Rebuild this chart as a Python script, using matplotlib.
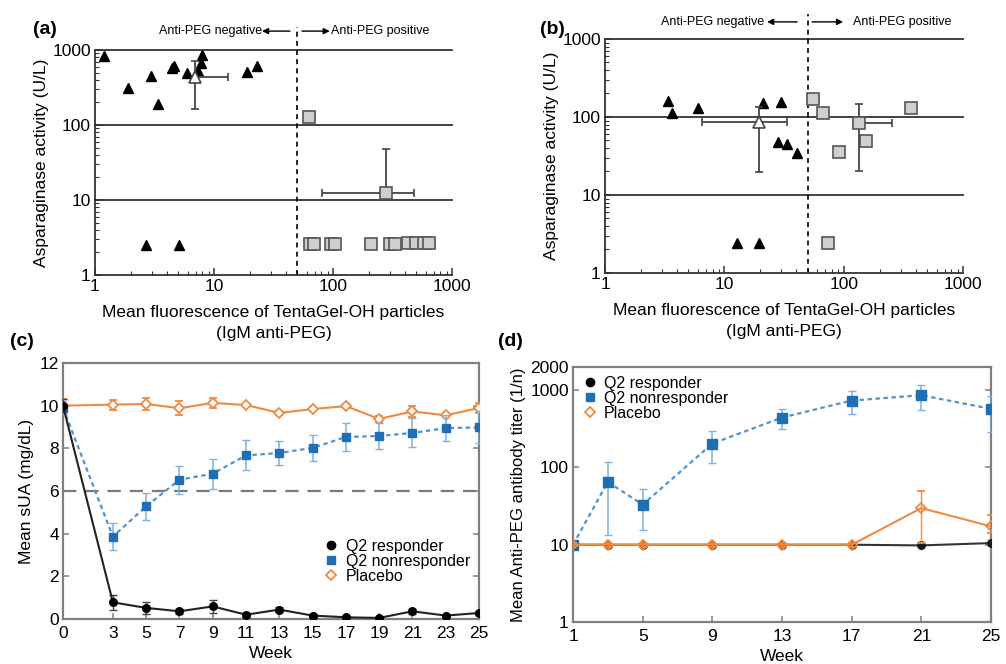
import matplotlib
matplotlib.use("Agg")
from matplotlib import pyplot as plt
from matplotlib.lines import Line2D
from matplotlib.ticker import NullFormatter, LogLocator

plt.rcParams["font.family"] = ["Liberation Sans", "DejaVu Sans"]

# (a) asparaginase activity vs anti-PEG fluorescence, cohort 1
a_neg_x = [1.2, 1.88, 2.95, 3.4, 4.4, 4.6, 5.98, 7.98, 7.8, 7.4, 18.8, 22.8, 2.67, 5.09]
a_neg_y = [820, 315, 450, 189, 570, 620, 500, 860, 665, 520, 505, 620, 2.5, 2.5]
a_pos_x = [62.5, 63.7, 68.9, 96.8, 104.6, 209, 302, 333, 425, 499, 586, 646]
a_pos_y = [129, 2.59, 2.59, 2.59, 2.59, 2.59, 2.6, 2.6, 2.65, 2.65, 2.65, 2.65]
a_neg_mean = [6.9, 440]
a_neg_xerr = [0, 6.1]
a_neg_yerr = [278, 280]
a_pos_mean = [280, 12.5]
a_pos_xerr = [199, 203]
a_pos_yerr = [0, 35.5]

# (b) same measurement, cohort 2
b_neg_x = [3.35, 3.62, 6.05, 21.2, 29.6, 28, 33.3, 40.9, 12.8, 19.5]
b_neg_y = [162, 111, 129, 150, 156, 48, 44.6, 35, 2.45, 2.45]
b_pos_x = [55.7, 66.7, 91.4, 153, 364, 73.5]
b_pos_y = [168, 111, 35.2, 48.7, 130, 2.45]
b_neg_mean = [19.5, 85.5]
b_neg_xerr = [13.05, 13.8]
b_neg_yerr = [65.8, 47.5]
b_pos_mean = [134, 84]
b_pos_xerr = [0, 119]
b_pos_yerr = [63.5, 61]

# (c) serum uric acid by week
weeks_c = [0, 3, 5, 7, 9, 11, 13, 15, 17, 19, 21, 23, 25]
resp_c = [10.0, 0.78, 0.52, 0.36, 0.59, 0.2, 0.44, 0.16, 0.08, 0.05, 0.36, 0.16, 0.28]
resp_c_err = [0.3, 0.35, 0.28, 0.12, 0.3, 0.1, 0.1, 0.08, 0.05, 0.05, 0.12, 0.05, 0.08]
nonresp_c = [9.9, 3.86, 5.28, 6.53, 6.81, 7.67, 7.78, 8.02, 8.53, 8.58, 8.72, 8.95, 8.98]
nonresp_c_err = [0.3, 0.64, 0.64, 0.65, 0.7, 0.7, 0.57, 0.61, 0.65, 0.6, 0.68, 0.6, 0.75]
placebo_c = [10.0, 10.05, 10.08, 9.88, 10.13, 10.03, 9.66, 9.84, 9.98, 9.38, 9.73, 9.55, 9.89]
placebo_c_err = [0.3, 0.23, 0.3, 0.33, 0.25, 0.05, 0.08, 0.1, 0.08, 0.15, 0.27, 0.1, 0.25]
week_ticks_c = [0, 3, 5, 7, 9, 11, 13, 15, 17, 19, 21, 23, 25]

# (d) anti-PEG antibody titer by week
weeks_d = [1, 3, 5, 9, 13, 17, 21, 25]
resp_d = [10, 10, 10, 10, 10, 10, 9.8, 10.5]
nonresp_d = [10, 65, 33, 204, 443, 735, 862, 574]
nonresp_d_lo = [10, 13.2, 15.3, 114, 316, 494, 557, 286]
nonresp_d_hi = [10, 118, 52.5, 295, 574, 990, 1170, 853]
placebo_d = [10, 10, 10, 10, 10, 10, 29.8, 17.3]
placebo_d_lo = [9.4, 9.4, 9.4, 9.4, 9.4, 9.4, 10.5, 14]
placebo_d_hi = [10.6, 10.6, 10.6, 10.6, 10.6, 10.6, 50, 24.4]
week_ticks_d = [1, 5, 9, 13, 17, 21, 25]

BLUE = "#1f6fb5"
BLUE_LINE = "#4f93d2"
BLUE_ERR = "#7fb0de"
ORANGE = "#f08a3e"
DARK = "#333333"
FRAME = "#808080"

fig = plt.figure(figsize=(10.06, 6.64), dpi=100)
ax_a = fig.add_axes([0.0944, 0.5858, 0.3549, 0.3389])
ax_b = fig.add_axes([0.6014, 0.5889, 0.3559, 0.3524])
ax_c = fig.add_axes([0.0626, 0.0678, 0.4135, 0.3855])
ax_d = fig.add_axes([0.5696, 0.0633, 0.4155, 0.3840])


def style_screen(ax):
    ax.set_xscale("log")
    ax.set_yscale("log")
    ax.set_xlim(1, 1000)
    ax.set_ylim(1, 1000)
    for v in (10, 100, 1000):
        ax.axhline(v, color=DARK, lw=1.3, zorder=1, clip_on=False)
    ax.spines[["top", "right"]].set_visible(False)
    for s in ("left", "bottom"):
        ax.spines[s].set_color(DARK)
        ax.spines[s].set_linewidth(1.3)
    ticks = [1, 10, 100, 1000]
    ax.set_xticks(ticks, labels=[str(t) for t in ticks])
    ax.set_yticks(ticks, labels=[str(t) for t in ticks])
    ax.xaxis.set_minor_locator(LogLocator(base=10, subs=range(2, 10)))
    ax.yaxis.set_minor_locator(LogLocator(base=10, subs=range(2, 10)))
    ax.xaxis.set_minor_formatter(NullFormatter())
    ax.yaxis.set_minor_formatter(NullFormatter())
    ax.tick_params(which="both", direction="in", labelsize=12.5, color=DARK, pad=3)
    ax.tick_params(which="major", length=5, width=1.1)
    ax.tick_params(which="minor", length=3, width=0.8)
    ax.set_xlabel("Mean fluorescence of TentaGel-OH particles\n(IgM anti-PEG)",
                  fontsize=12.5, labelpad=8, linespacing=1.45)
    ax.set_ylabel("Asparaginase activity (U/L)", fontsize=12.5, labelpad=2)


def draw_screen(ax, neg_x, neg_y, pos_x, pos_y, neg_mean, neg_xerr, neg_yerr,
                pos_mean, pos_xerr, pos_yerr, arrows, text_y, line_top):
    style_screen(ax)
    ax.plot(neg_x, neg_y, ls="none", marker="^", ms=7.5, color="black", zorder=3)
    ax.plot(pos_x, pos_y, ls="none", marker="s", ms=8, mfc="#cfcfcf",
            mec="#555555", mew=1.2, zorder=3)
    ax.errorbar([neg_mean[0]], [neg_mean[1]],
                xerr=[[neg_xerr[0]], [neg_xerr[1]]], yerr=[[neg_yerr[0]], [neg_yerr[1]]],
                fmt="^", ms=8, mfc="white", mec="#444444", mew=1.2,
                ecolor="#444444", elinewidth=1.3, capsize=3, zorder=4)
    ax.errorbar([pos_mean[0]], [pos_mean[1]],
                xerr=[[pos_xerr[0]], [pos_xerr[1]]], yerr=[[pos_yerr[0]], [pos_yerr[1]]],
                fmt="s", ms=8.5, mfc="#cfcfcf", mec="#555555", mew=1.2,
                ecolor="#444444", elinewidth=1.3, capsize=3, zorder=4)

    # anti-PEG cut-off
    ax.axvline(50, ymin=0, ymax=line_top, clip_on=False, color="black",
               lw=1.2, ls=(0, (3, 2.5)), zorder=2)
    tr = ax.get_xaxis_transform()
    (l_head, l_tail), (r_tail, r_head), l_text, r_text = arrows
    ax.annotate("", xy=(l_head, text_y), xytext=(l_tail, text_y), xycoords=tr,
                textcoords=tr, annotation_clip=False,
                arrowprops=dict(arrowstyle="-|>", color="black", lw=1,
                                mutation_scale=9, shrinkA=0, shrinkB=0))
    ax.annotate("", xy=(r_head, text_y), xytext=(r_tail, text_y), xycoords=tr,
                textcoords=tr, annotation_clip=False,
                arrowprops=dict(arrowstyle="-|>", color="black", lw=1,
                                mutation_scale=9, shrinkA=0, shrinkB=0))
    ax.text(l_text, text_y, "Anti-PEG negative", transform=tr, ha="right",
            va="center", fontsize=9)
    ax.text(r_text, text_y, "Anti-PEG positive", transform=tr, ha="left",
            va="center", fontsize=9)


draw_screen(ax_a, a_neg_x, a_neg_y, a_pos_x, a_pos_y, a_neg_mean, a_neg_xerr,
            a_neg_yerr, a_pos_mean, a_pos_xerr, a_pos_yerr,
            ((25.3, 43.5), (54.9, 94), 25.3, 96), 1.084, 1.1)
draw_screen(ax_b, b_neg_x, b_neg_y, b_pos_x, b_pos_y, b_neg_mean, b_neg_xerr,
            b_neg_yerr, b_pos_mean, b_pos_xerr, b_pos_yerr,
            ((22.8, 40.7), (54.4, 98.9), 21.5, 120), 1.073, 1.107)


def style_week(ax):
    for s in ax.spines.values():
        s.set_color(FRAME)
        s.set_linewidth(1.6)
    ax.tick_params(which="both", direction="in", labelsize=12.5, color=FRAME,
                   length=4, width=1.1, right=True, pad=3)
    ax.tick_params(axis="x", pad=5)
    ax.set_xlabel("Week", fontsize=12.5, labelpad=4)


# (c)
ax = ax_c
ax.axhline(6, color="#7a7a7a", lw=1.6, ls=(0, (6, 4)), zorder=1)
ax.errorbar(weeks_c, placebo_c, yerr=placebo_c_err, color=ORANGE, lw=1.5,
            marker="D", ms=5, mfc="white", mec=ORANGE, mew=1.3,
            ecolor=ORANGE, elinewidth=1, capsize=3, zorder=3)
ax.errorbar(weeks_c, nonresp_c, yerr=nonresp_c_err, color=BLUE_LINE, lw=1.6,
            ls=(0, (2, 1.6)), marker="s", ms=6, mfc=BLUE, mec=BLUE,
            ecolor=BLUE_ERR, elinewidth=1.1, capsize=3, zorder=4)
ax.errorbar(weeks_c, resp_c, yerr=resp_c_err, color="#222222", lw=1.5,
            marker="o", ms=5.5, mfc="black", mec="black",
            ecolor="#444444", elinewidth=1, capsize=3, zorder=5)
ax.set_xlim(0, 25)
ax.set_ylim(0, 12)
ax.set_xticks(week_ticks_c)
ax.set_yticks(range(0, 13, 2))
style_week(ax)
ax.set_ylabel("Mean sUA (mg/dL)", fontsize=12.5, labelpad=4)
handles = [
    Line2D([], [], ls="none", marker="o", ms=6, color="black"),
    Line2D([], [], ls="none", marker="s", ms=5.5, color=BLUE),
    Line2D([], [], ls="none", marker="D", ms=5.5, mfc="white", mec=ORANGE, mew=1.3),
]
ax.legend(handles, ["Q2 responder", "Q2 nonresponder", "Placebo"],
          loc="center left", bbox_to_anchor=(0.63, 0.225), frameon=False,
          fontsize=11.5, handlelength=0.8, handletextpad=0.5, labelspacing=0.0,
          borderpad=0, borderaxespad=0)

# (d)
ax = ax_d
ax.set_yscale("log")
ax.errorbar(weeks_d, nonresp_d,
            yerr=[[m - lo for m, lo in zip(nonresp_d, nonresp_d_lo)],
                  [hi - m for m, hi in zip(nonresp_d, nonresp_d_hi)]],
            color=BLUE_LINE, lw=1.6, ls=(0, (2, 1.6)), marker="s", ms=7,
            mfc=BLUE, mec=BLUE, ecolor=BLUE_ERR, elinewidth=1.1, capsize=3,
            zorder=3)
ax.errorbar(weeks_d, resp_d, color="#333333", lw=1.5, marker="o", ms=5.5,
            mfc="#1a1a1a", mec="#1a1a1a", zorder=4)
ax.errorbar(weeks_d, placebo_d,
            yerr=[[m - lo for m, lo in zip(placebo_d, placebo_d_lo)],
                  [hi - m for m, hi in zip(placebo_d, placebo_d_hi)]],
            color=ORANGE, lw=1.5, marker="D", ms=5, mfc="none", mec=ORANGE,
            mew=1.3, ecolor=ORANGE, elinewidth=1, capsize=3, zorder=5)
ax.set_xlim(1, 25)
ax.set_ylim(1, 2000)
ax.set_xticks(week_ticks_d)
ax.set_yticks([1, 10, 100, 1000, 2000], labels=["1", "10", "100", "1000", "2000"])
ax.yaxis.set_minor_locator(LogLocator(base=10, subs=[]))
ax.yaxis.set_minor_formatter(NullFormatter())
style_week(ax)
ax.set_ylabel("Mean Anti-PEG antibody titer (1/n)", fontsize=12, labelpad=3)
ax.legend(handles, ["Q2 responder", "Q2 nonresponder", "Placebo"],
          loc="center left", bbox_to_anchor=(0.025, 0.878), frameon=False,
          fontsize=11.5, handlelength=0.8, handletextpad=0.5, labelspacing=0.0,
          borderpad=0, borderaxespad=0)

# panel letters
for x, y, s in ((0.033, 0.955, "(a)"), (0.537, 0.955, "(b)"),
                (0.010, 0.485, "(c)"), (0.495, 0.485, "(d)")):
    fig.text(x, y, s, fontsize=14, fontweight="bold", ha="left", va="center")

fig.savefig("out.png", dpi=100)
